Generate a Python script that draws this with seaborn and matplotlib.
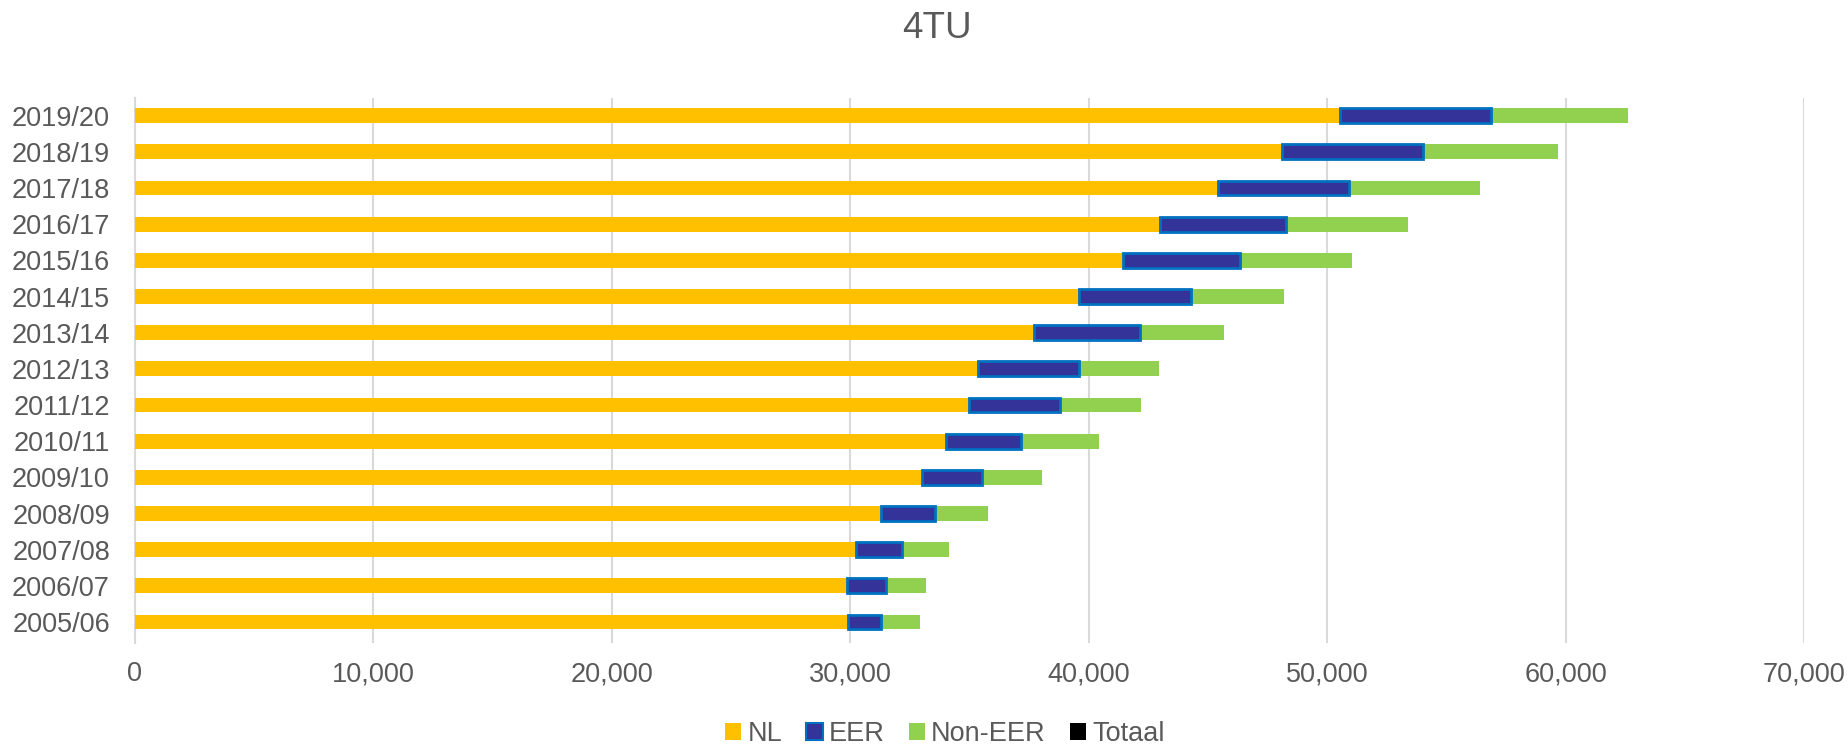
import numpy as np
import matplotlib
matplotlib.use("Agg")
import matplotlib.pyplot as plt
from matplotlib.patches import Patch
from matplotlib.ticker import FuncFormatter
import seaborn as sns

# academic years, top row first
YEARS = ["2019/20", "2018/19", "2017/18", "2016/17", "2015/16", "2014/15", "2013/14",
         "2012/13", "2011/12", "2010/11", "2009/10", "2008/09", "2007/08", "2006/07", "2005/06"]
NL = [50540, 48090, 45420, 42990, 41420, 39590, 37690,
      35340, 34960, 34000, 33010, 31280, 30250, 29850, 29900]
EER = [6320, 5920, 5510, 5270, 4930, 4690, 4460,
       4260, 3840, 3170, 2530, 2280, 1900, 1630, 1380]
NON_EER = [5750, 5670, 5460, 5120, 4700, 3890, 3510,
           3330, 3390, 3260, 2480, 2230, 1990, 1700, 1630]

TEXT = "#595959"
GRID = "#D9D9D9"
C_NL = "#FFC000"
C_EER = "#333399"
C_EER_EDGE = "#0070C0"
C_NON = "#92D050"

sns.set_theme(style="white")
plt.rcParams["font.family"] = ["Liberation Sans", "DejaVu Sans"]

fig = plt.figure(figsize=(18.49, 7.48), dpi=100)
ax = fig.add_axes([0.073, 0.1404, 0.9027, 0.7286])

nl = np.array(NL)
eer = np.array(EER)
non = np.array(NON_EER)
pos = np.arange(len(YEARS))
h = 0.41

sns.barplot(x=NL, y=YEARS, order=YEARS, color=C_NL, width=h, saturation=1,
            linewidth=0, ax=ax, zorder=3)
ax.barh(pos, eer, left=nl, height=h, color=C_EER, edgecolor=C_EER_EDGE,
        linewidth=2, zorder=4)
ax.barh(pos, non, left=nl + eer, height=h, color=C_NON, linewidth=0, zorder=3)

ax.set_xlim(0, 70000)
ax.set_ylim(len(YEARS) - 0.42, -0.49)
ax.set_xticks(np.arange(0, 70001, 10000))
ax.xaxis.set_major_formatter(FuncFormatter(lambda v, p: f"{int(v):,}"))
ax.grid(axis="x", color=GRID, linewidth=1.5, zorder=0)
ax.grid(axis="y", visible=False)
for s in ["top", "right", "bottom"]:
    ax.spines[s].set_visible(False)
ax.spines["left"].set_color(GRID)
ax.spines["left"].set_linewidth(1.5)
ax.tick_params(axis="both", length=0, labelsize=19.5, colors=TEXT)
ax.tick_params(axis="x", pad=13)
ax.tick_params(axis="y", pad=18)
ax.set_xlabel("")
ax.set_ylabel("")

fig.text(937 / 1849, 1 - 29 / 748, "4TU", ha="center", va="center",
         fontsize=26.5, color=TEXT)

handles = [Patch(facecolor=C_NL, edgecolor="none", label="NL"),
           Patch(facecolor=C_EER, edgecolor=C_EER_EDGE, linewidth=1.5, label="EER"),
           Patch(facecolor=C_NON, edgecolor="none", label="Non-EER"),
           Patch(facecolor="black", edgecolor="none", label="Totaal")]
fig.legend(handles=handles, loc="center", bbox_to_anchor=(945 / 1849, 14 / 748),
           ncol=4, frameon=False, fontsize=19.5, labelcolor=TEXT,
           handlelength=0.6, handleheight=0.6, handletextpad=0.22, columnspacing=0.9)

fig.savefig("out.png", dpi=100)
